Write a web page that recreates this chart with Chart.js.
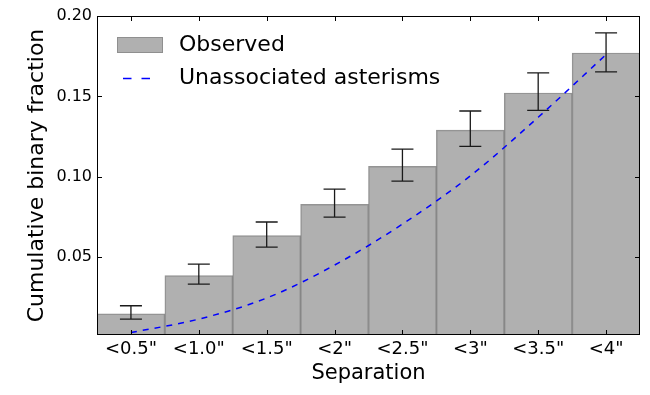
<!DOCTYPE html>
<html>
<head>
<meta charset="utf-8">
<script src="https://cdn.jsdelivr.net/npm/chart.js@4"></script>
<style>
	body { margin: 0; background: #fff; }
	#wrap { width: 650px; height: 395px; }
</style>
</head>
<body>
<div id="wrap"><canvas id="binChart" width="650" height="395"></canvas></div>
<script>
// values
const separations = ['<0.5"', '<1.0"', '<1.5"', '<2"', '<2.5"', '<3"', '<3.5"', '<4"'];
const observed = [0.0147, 0.0384, 0.0633, 0.0828, 0.1064, 0.129, 0.1521, 0.177];
const errLow = [0.0114, 0.0332, 0.0562, 0.0749, 0.0973, 0.1189, 0.1413, 0.1652];
const errHigh = [0.0197, 0.0456, 0.0718, 0.0923, 0.1172, 0.1409, 0.1646, 0.1895];
const asterisms = [0.003, 0.0114, 0.0245, 0.045, 0.0705, 0.1005, 0.137, 0.176];
const yTicks = [0.05, 0.10, 0.15, 0.20];

const FONT = "'DejaVu Sans', sans-serif";

// error bars, frame with inward ticks, and the legend box
const extras = {
	id: "extras",
	afterDatasetsDraw(chart) {
		const ctx = chart.ctx;
		const x = chart.scales.x;
		const y = chart.scales.y;
		ctx.save();
		ctx.strokeStyle = "#1a1a1a";
		ctx.lineWidth = 1.3;
		for (let i = 0; i < separations.length; i++) {
			const px = x.getPixelForValue(i);
			const top = y.getPixelForValue(errHigh[i]);
			const bot = y.getPixelForValue(errLow[i]);
			ctx.beginPath();
			ctx.moveTo(px, top);
			ctx.lineTo(px, bot);
			ctx.moveTo(px - 11, top);
			ctx.lineTo(px + 11, top);
			ctx.moveTo(px - 11, bot);
			ctx.lineTo(px + 11, bot);
			ctx.stroke();
		}
		ctx.restore();
	},
	afterDraw(chart) {
		const ctx = chart.ctx;
		const a = chart.chartArea;
		const x = chart.scales.x;
		const y = chart.scales.y;
		ctx.save();
		ctx.strokeStyle = "#000";
		ctx.lineWidth = 1;
		ctx.strokeRect(Math.round(a.left) + 0.5, Math.round(a.top) + 0.5,
			Math.round(a.right - a.left) - 1, Math.round(a.bottom - a.top) - 1);
		ctx.beginPath();
		for (const v of yTicks) {
			const py = Math.round(y.getPixelForValue(v)) + 0.5;
			ctx.moveTo(a.left, py);
			ctx.lineTo(a.left + 5, py);
			ctx.moveTo(a.right, py);
			ctx.lineTo(a.right - 5, py);
		}
		for (let i = 0; i < separations.length; i++) {
			const px = Math.round(x.getPixelForValue(i)) + 0.5;
			ctx.moveTo(px, a.top);
			ctx.lineTo(px, a.top + 5);
			ctx.moveTo(px, a.bottom);
			ctx.lineTo(px, a.bottom - 5);
		}
		ctx.stroke();

		// legend
		ctx.fillStyle = "#b0b0b0";
		ctx.fillRect(117, 37, 46, 16);
		ctx.strokeStyle = "rgba(110,110,110,0.5)";
		ctx.strokeRect(117.5, 37.5, 45, 15);
		ctx.strokeStyle = "#0000ff";
		ctx.lineWidth = 1.5;
		ctx.setLineDash([8.5, 10]);
		ctx.beginPath();
		ctx.moveTo(123, 78.5);
		ctx.lineTo(151, 78.5);
		ctx.stroke();
		ctx.setLineDash([]);
		ctx.fillStyle = "#000";
		ctx.font = "22px " + FONT;
		ctx.textBaseline = "middle";
		ctx.fillText("Observed", 179, 45);
		ctx.fillText("Unassociated asterisms", 179, 78);
		ctx.restore();
	}
};

function showChart() {
	const ctx = document.getElementById("binChart");

	const data = {
		labels: separations,
		datasets: [
			{
				type: "line",
				label: "Unassociated asterisms",
				data: asterisms,
				borderColor: "#0000ff",
				borderWidth: 1.5,
				borderDash: [6, 6],
				pointRadius: 0,
				cubicInterpolationMode: "monotone",
				fill: false,
				order: 0,
			},
			{
				label: "Observed",
				data: observed,
				backgroundColor: "#b0b0b0",
				borderColor: "rgba(90,90,90,0.65)",
				borderWidth: 1.5,
				categoryPercentage: 1,
				barPercentage: 1,
				order: 1,
			},
		],
	};

	new Chart(ctx, {
		type: "bar",
		data: data,
		plugins: [extras],
		options: {
			responsive: false,
			animation: false,
			layout: { padding: { left: 0, top: 16, right: 10, bottom: 0 } },
			plugins: {
				legend: { display: false },
				tooltip: { enabled: false },
			},
			scales: {
				x: {
					grid: { display: false, drawTicks: false },
					border: { display: false },
					ticks: { color: "#000", padding: 4, font: { family: FONT, size: 18 }, maxRotation: 0 },
					title: {
						display: true,
						text: "Separation",
						color: "#000",
						font: { family: FONT, size: 21 },
						padding: { top: 0, bottom: 9 },
					},
					afterFit(scale) { scale.height = 60; },
				},
				y: {
					min: 0.0015,
					max: 0.2,
					afterBuildTicks(scale) { scale.ticks = yTicks.map(v => ({ value: v })); },
					grid: { display: false, drawTicks: false },
					border: { display: false },
					ticks: {
						color: "#000",
						padding: 5,
						font: { family: FONT, size: 16 },
						callback: v => v.toFixed(2),
					},
					title: {
						display: true,
						text: "Cumulative binary fraction",
						color: "#000",
						font: { family: FONT, size: 22 },
						padding: { top: 24, bottom: 0 },
					},
					afterFit(scale) { scale.width = 97; },
				},
			},
		},
	});
}

showChart();
</script>
</body>
</html>
